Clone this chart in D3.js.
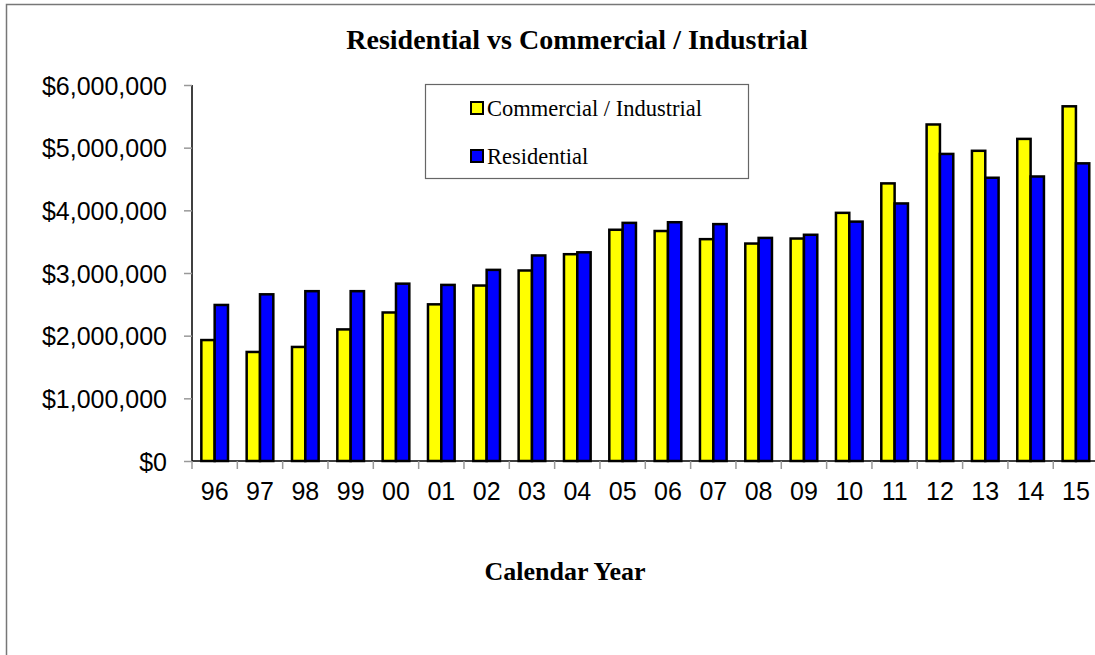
<!DOCTYPE html>
<html>
<head>
<meta charset="utf-8">
<script src="https://cdn.jsdelivr.net/npm/d3@7"></script>
<style>
  body { margin: 0; background: #fff; }
  .tick-label { font-family: Arial, "Liberation Sans", sans-serif; font-size: 25px; fill: #000; }
</style>
</head>
<body>
<div id="chart"></div>
<script>
var years = ['96', '97', '98', '99', '00', '01', '02', '03', '04', '05',
             '06', '07', '08', '09', '10', '11', '12', '13', '14', '15'];
var commercial = [1930000, 1740000, 1820000, 2100000, 2370000, 2500000, 2800000, 3040000, 3300000, 3690000,
                  3670000, 3540000, 3470000, 3550000, 3960000, 4430000, 5370000, 4950000, 5140000, 5660000];
var residential = [2490000, 2660000, 2710000, 2710000, 2830000, 2810000, 3050000, 3280000, 3330000, 3800000,
                   3810000, 3780000, 3560000, 3610000, 3820000, 4110000, 4900000, 4520000, 4540000, 4750000];
var seriesNames = ['Commercial / Industrial', 'Residential'];
var seriesColors = ['#ffff00', '#0000ff'];
var yTicks = [0, 1000000, 2000000, 3000000, 4000000, 5000000, 6000000];

var W = 1095, H = 655;
var plotLeft = 192, plotTop = 85, plotBottom = 461;
var step = 45.33;

var svg = d3.select('#chart').append('svg')
  .attr('width', W)
  .attr('height', H);

// outer chart frame
svg.append('rect')
  .attr('x', 6.5).attr('y', 4.5)
  .attr('width', W + 20).attr('height', H + 20)
  .attr('fill', 'none')
  .attr('stroke', '#777')
  .attr('stroke-width', 1.5);

var x = d3.scaleBand()
  .domain(years)
  .range([plotLeft, plotLeft + step * years.length])
  .paddingInner(0);

var xs = d3.scaleBand()
  .domain([0, 1])
  .range([0, x.bandwidth()])
  .paddingInner(0)
  .paddingOuter(0.7);

var y = d3.scaleLinear()
  .domain([0, 6000000])
  .range([plotBottom, plotTop]);

var data = years.map(function (yr, i) {
  return {year: yr, values: [commercial[i], residential[i]]};
});

// bars
var group = svg.selectAll('.year')
  .data(data)
  .enter().append('g')
  .attr('class', 'year')
  .attr('transform', function (d) { return 'translate(' + x(d.year) + ',0)'; });

group.selectAll('rect')
  .data(function (d) { return d.values.map(function (v, k) { return {k: k, v: v}; }); })
  .enter().append('rect')
  .attr('x', function (d) { return xs(d.k); })
  .attr('y', function (d) { return y(d.v); })
  .attr('width', xs.bandwidth())
  .attr('height', function (d) { return plotBottom - y(d.v); })
  .attr('fill', function (d) { return seriesColors[d.k]; })
  .attr('stroke', '#000')
  .attr('stroke-width', 2.5);

// Y axis
var yAxis = d3.axisLeft(y)
  .tickValues(yTicks)
  .tickSize(8)
  .tickPadding(17)
  .tickFormat(function (v) { return '$' + d3.format(',')(v); });

var yg = svg.append('g')
  .attr('transform', 'translate(' + plotLeft + ',0)')
  .call(yAxis);
yg.select('.domain').attr('stroke', '#000').attr('stroke-width', 1.5)
  .attr('d', 'M0,' + plotTop + 'V' + plotBottom);
yg.selectAll('.tick line').attr('stroke', '#999').attr('stroke-width', 1.5);
yg.selectAll('.tick text').attr('class', 'tick-label').attr('dy', '0.36em');

// X axis
var xAxis = d3.axisBottom(x)
  .tickSize(0)
  .tickPadding(21);

var xg = svg.append('g')
  .attr('transform', 'translate(0,' + plotBottom + ')')
  .call(xAxis);
xg.select('.domain').attr('stroke', '#000').attr('stroke-width', 1.5)
  .attr('d', 'M' + plotLeft + ',0H' + (W + 5));
xg.selectAll('.tick text').attr('class', 'tick-label').attr('dy', '0.71em');

// category separators
xg.selectAll('.sep')
  .data(years)
  .enter().append('line')
  .attr('class', 'sep')
  .attr('x1', function (d) { return x(d); })
  .attr('x2', function (d) { return x(d); })
  .attr('y1', 0).attr('y2', 8)
  .attr('stroke', '#999')
  .attr('stroke-width', 1.5);

// title
svg.append('text')
  .attr('x', 577).attr('y', 49)
  .attr('text-anchor', 'middle')
  .style('font', 'bold 28px "Liberation Serif", "Times New Roman", serif')
  .text('Residential vs Commercial / Industrial');

// x axis title
svg.append('text')
  .attr('x', 565).attr('y', 580)
  .attr('text-anchor', 'middle')
  .style('font', 'bold 26px "Liberation Serif", "Times New Roman", serif')
  .text('Calendar Year');

// legend
var legend = svg.append('g').attr('transform', 'translate(425,84)');
legend.append('rect')
  .attr('x', 0.5).attr('y', 0.5)
  .attr('width', 323).attr('height', 94)
  .attr('fill', '#fff')
  .attr('stroke', '#666')
  .attr('stroke-width', 1.2);

var item = legend.selectAll('.item')
  .data(seriesNames)
  .enter().append('g')
  .attr('class', 'item')
  .attr('transform', function (d, i) { return 'translate(0,' + (24 + i * 48) + ')'; });

item.append('rect')
  .attr('x', 46).attr('y', -6)
  .attr('width', 12).attr('height', 12)
  .attr('fill', function (d, i) { return seriesColors[i]; })
  .attr('stroke', '#000')
  .attr('stroke-width', 2);

item.append('text')
  .attr('x', 62).attr('y', 0)
  .attr('dy', '0.35em')
  .style('font', '22.5px "Liberation Serif", "Times New Roman", serif')
  .text(function (d) { return d; });
</script>
</body>
</html>
